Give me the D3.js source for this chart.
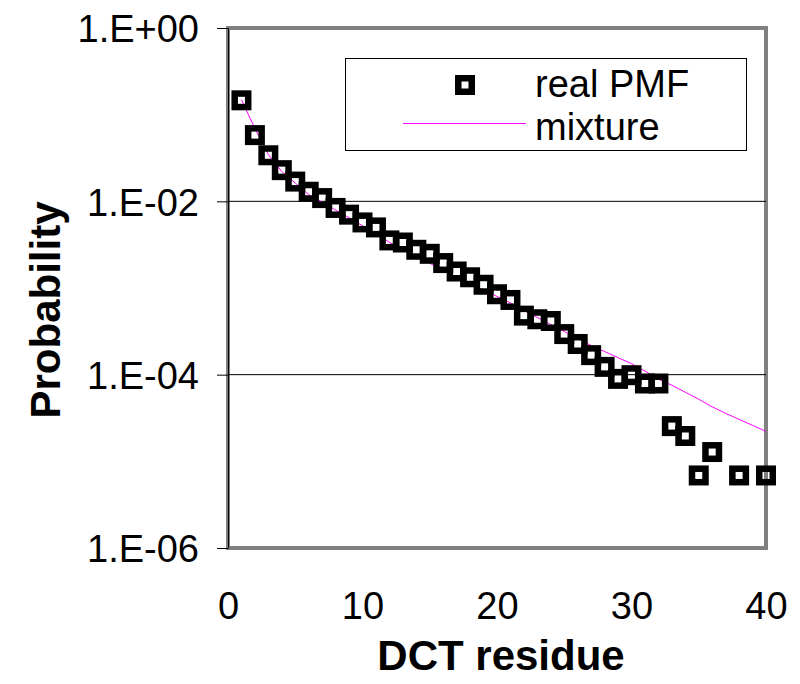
<!DOCTYPE html>
<html>
<head>
<meta charset="utf-8">
<script src="https://cdn.jsdelivr.net/npm/d3@7"></script>
<style>
  html, body { margin: 0; padding: 0; background: #fff; }
  svg { display: block; }
  text { font-family: "Liberation Sans", Arial, sans-serif; }
</style>
</head>
<body>
<svg id="chart" width="800" height="684"></svg>
<script>
// DCT residue values with an observed probability
const residue = [1, 2, 3, 4, 5, 6, 7, 8, 9, 10,
                 11, 12, 13, 14, 15, 16, 17, 18, 19, 20,
                 21, 22, 23, 24, 25, 26, 27, 28, 29, 30,
                 31, 32, 33, 34, 35, 36, 38, 40];
// Measured probability mass function
const realPMF = [0.1464, 0.0581, 0.0340, 0.0229, 0.0169, 0.0129, 0.0109, 0.00839, 0.00702, 0.00571,
                 0.00500, 0.00354, 0.00335, 0.00276, 0.00248, 0.00194, 0.00155, 0.00133, 0.00109, 0.000847,
                 0.000728, 0.000480, 0.000436, 0.000416, 0.000294, 0.000226, 0.000168, 0.000123, 0.0000894, 0.0000986,
                 0.0000791, 0.0000791, 0.0000255, 0.0000196, 0.00000687, 0.0000128, 0.00000687, 0.00000687];
// Mixture model evaluated at residues 1..40
const mixtureX = d3.range(1, 41);
const mixture = [0.1484, 0.0694, 0.0347, 0.02207, 0.01624, 0.01195, 0.00979, 0.00791, 0.00648, 0.00523,
                 0.00417, 0.00337, 0.00276, 0.00229, 0.00193, 0.00160, 0.00133, 0.001115, 0.000951, 0.000799,
                 0.000672, 0.000550, 0.000457, 0.000379, 0.000315, 0.000261, 0.000217, 0.000185, 0.000157, 0.000134,
                 0.000110, 0.0000887, 0.0000756, 0.0000627, 0.0000521, 0.0000426, 0.0000358, 0.0000305, 0.0000260, 0.0000222];
// Axis ticks
const yTickValues = [1, 1e-2, 1e-4, 1e-6];
const yTickLabels = ["1.E+00", "1.E-02", "1.E-04", "1.E-06"];
const xTickValues = [0, 10, 20, 30, 40];
const gridValues = [1e-2, 1e-4];

const svg = d3.select("#chart");
const plot = { left: 228, right: 766, top: 28, bottom: 548 };

const x = d3.scaleLinear().domain([0, 40]).range([plot.left, plot.right]);
const y = d3.scaleLog().domain([1e-6, 1]).range([plot.bottom, plot.top]);

// Plot-area frame
svg.append("rect")
  .attr("x", plot.left).attr("y", plot.top)
  .attr("width", plot.right - plot.left).attr("height", plot.bottom - plot.top)
  .attr("fill", "#fff").attr("stroke", "#808080").attr("stroke-width", 4);

// Horizontal gridlines
svg.append("g").selectAll("line").data(gridValues).join("line")
  .attr("x1", plot.left).attr("x2", plot.right)
  .attr("y1", d => y(d)).attr("y2", d => y(d))
  .attr("stroke", "#000").attr("stroke-width", 1);

// Y axis
const yAxis = svg.append("g")
  .attr("transform", `translate(${plot.left},0)`)
  .call(d3.axisLeft(y).tickValues(yTickValues)
    .tickFormat((d, i) => yTickLabels[i]).tickSize(11).tickSizeOuter(0).tickPadding(18));
yAxis.select(".domain").attr("stroke", "#000");
yAxis.selectAll(".tick line").attr("stroke", "#000");
yAxis.selectAll(".tick text")
  .attr("font-family", "Liberation Sans, Arial, sans-serif")
  .attr("font-size", 38).attr("fill", "#000").attr("dy", "0.36em");

// X axis (labels only)
const xAxis = svg.append("g")
  .attr("transform", `translate(0,${plot.bottom})`)
  .call(d3.axisBottom(x).tickValues(xTickValues).tickSize(0).tickPadding(71));
xAxis.select(".domain").remove();
xAxis.selectAll(".tick text")
  .attr("font-family", "Liberation Sans, Arial, sans-serif")
  .attr("font-size", 38).attr("fill", "#000").attr("dy", "0");

// Mixture curve
const line = d3.line().x(d => x(d[0])).y(d => y(d[1]));
svg.append("path")
  .datum(mixtureX.map((k, i) => [k, mixture[i]]))
  .attr("d", line).attr("fill", "none")
  .attr("stroke", "#ff00ff").attr("stroke-width", 1);

// Real PMF markers
const mSize = 13.5;
svg.append("g").selectAll("rect").data(residue.map((k, i) => [k, realPMF[i]])).join("rect")
  .attr("x", d => x(d[0]) - mSize / 2).attr("y", d => y(d[1]) - mSize / 2)
  .attr("width", mSize).attr("height", mSize)
  .attr("fill", "none").attr("stroke", "#000").attr("stroke-width", 6.5);

// Legend
const lg = svg.append("g");
lg.append("rect").attr("x", 345.5).attr("y", 58.5).attr("width", 401).attr("height", 92)
  .attr("fill", "#fff").attr("stroke", "#000").attr("stroke-width", 1);
lg.append("rect").attr("x", 465 - mSize / 2).attr("y", 85 - mSize / 2)
  .attr("width", mSize).attr("height", mSize)
  .attr("fill", "none").attr("stroke", "#000").attr("stroke-width", 6.5);
lg.append("text").attr("x", 535).attr("y", 96.5).attr("font-size", 38).text("real PMF");
lg.append("line").attr("x1", 403).attr("x2", 526).attr("y1", 123.5).attr("y2", 123.5)
  .attr("stroke", "#ff00ff").attr("stroke-width", 1);
lg.append("text").attr("x", 535).attr("y", 139.5).attr("font-size", 38).text("mixture");

// Axis titles
svg.append("text").attr("x", (plot.left + plot.right) / 2 + 4).attr("y", 670)
  .attr("text-anchor", "middle").attr("font-size", 42).attr("font-weight", "bold")
  .text("DCT residue");
svg.append("text").attr("transform", "translate(60,310) rotate(-90)")
  .attr("text-anchor", "middle").attr("font-size", 42).attr("font-weight", "bold")
  .text("Probability");
</script>
</body>
</html>
